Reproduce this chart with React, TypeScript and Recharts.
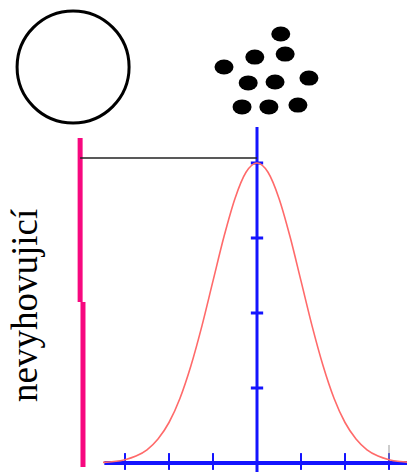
import React from 'react';
import { ComposedChart, Line, Scatter, XAxis, YAxis, ReferenceLine, ReferenceDot } from 'recharts';

// bell curve, sampled every quarter unit
const CURVE_X = [-3.5, -3.25, -3, -2.75, -2.5, -2.25, -2, -1.75, -1.5, -1.25, -1, -0.75, -0.5, -0.25, 0,
    0.25, 0.5, 0.75, 1, 1.25, 1.5, 1.75, 2, 2.25, 2.5, 2.75, 3, 3.25, 3.5];
const CURVE_Y = [0.002, 0.005, 0.011, 0.023, 0.044, 0.08, 0.135, 0.216, 0.325, 0.458, 0.607, 0.755, 0.882, 0.969, 1,
    0.969, 0.882, 0.755, 0.607, 0.458, 0.325, 0.216, 0.135, 0.08, 0.044, 0.023, 0.011, 0.005, 0.002];

const X_TICKS = [-3, -2, -1, 1, 2, 3];
const Y_TICKS = [0.25, 0.5, 0.75, 1];

// the cluster of small particles above the peak
const DOT_X = [0.54, -0.05, 0.64, -0.75, -0.2, 0.41, 1.18, -0.34, 0.27, 0.93];
const DOT_Y = [1.43, 1.353, 1.363, 1.32, 1.267, 1.27, 1.283, 1.187, 1.187, 1.193];

// one big particle on the left
const BIG_X = -4.18;
const BIG_Y = 1.32;

// limit bar on the left, drawn in two pieces
const BAR_X = [-4.02, -3.955];
const BAR_TOP = 1.083;
const BAR_MID = 0.537;
const BAR_BOTTOM = -0.013;

const LABEL = 'nevyhovujicí';

const X_MIN = -5.841;
const X_MAX = 3.409;
const Y_MIN = -0.03;
const Y_MAX = 1.5433;

const curve = CURVE_X.map((x, i) => ({ x, y: CURVE_Y[i] }));
const dots = DOT_X.map((x, i) => ({ x, y: DOT_Y[i] }));

const BLUE = '#1414ff';
const PINK = '#f7087f';
const SERIF = '"Liberation Serif", "Times New Roman", Times, "Noto Serif", "DejaVu Serif", serif';

export default function App() {
    return (
        <div style={{ position: 'absolute', left: 0, top: 0, width: 407, height: 472, background: '#fff' }}>
            <ComposedChart width={407} height={472} data={curve} margin={{ top: 0, right: 0, bottom: 0, left: 0 }}>
                <XAxis dataKey="x" type="number" domain={[X_MIN, X_MAX]} allowDataOverflow hide />
                <YAxis type="number" domain={[Y_MIN, Y_MAX]} allowDataOverflow hide />

                {/* axes */}
                <ReferenceLine segment={[{ x: -3.47, y: 0 }, { x: X_MAX, y: 0 }]} stroke={BLUE} strokeWidth={4} ifOverflow="visible" />
                <ReferenceLine segment={[{ x: 0, y: -0.03 }, { x: 0, y: 1.12 }]} stroke={BLUE} strokeWidth={3} ifOverflow="visible" />
                {X_TICKS.map((t) => (
                    <ReferenceLine key={`xt${t}`} segment={[{ x: t, y: -0.023 }, { x: t, y: 0.033 }]} stroke={BLUE} strokeWidth={2} ifOverflow="visible" />
                ))}
                {Y_TICKS.map((t) => (
                    <ReferenceLine key={`yt${t}`} segment={[{ x: -0.14, y: t }, { x: 0.14, y: t }]} stroke={BLUE} strokeWidth={3} ifOverflow="visible" />
                ))}
                <ReferenceLine segment={[{ x: 3, y: 0.01 }, { x: 3, y: 0.06 }]} stroke="#999" strokeWidth={1} ifOverflow="visible" />

                {/* pink limit bar and the connector to the peak */}
                <ReferenceLine segment={[{ x: BAR_X[0], y: BAR_TOP }, { x: BAR_X[0], y: BAR_MID }]} stroke={PINK} strokeWidth={5} ifOverflow="visible" />
                <ReferenceLine segment={[{ x: BAR_X[1], y: BAR_MID }, { x: BAR_X[1], y: BAR_BOTTOM }]} stroke={PINK} strokeWidth={5} ifOverflow="visible" />
                <ReferenceLine segment={[{ x: BAR_X[0], y: 1.017 }, { x: 0, y: 1.017 }]} stroke="#222" strokeWidth={1.5} ifOverflow="visible" />

                <Line dataKey="y" type="monotone" stroke="#ff6a6a" strokeWidth={1.6} dot={false} activeDot={false} isAnimationActive={false} />

                <ReferenceDot x={BIG_X} y={BIG_Y} r={56} fill="none" stroke="#000" strokeWidth={3} ifOverflow="visible" />
                <Scatter
                    data={dots}
                    dataKey="y"
                    isAnimationActive={false}
                    shape={(p: { cx?: number; cy?: number }) => <ellipse cx={p.cx} cy={p.cy} rx={9.5} ry={7.5} fill="#000" />}
                />
            </ComposedChart>
            {/* rotated side label */}
            <div
                style={{
                    position: 'absolute',
                    left: 38,
                    top: 402,
                    transformOrigin: '0 0',
                    transform: 'rotate(-90deg) translateY(-34px)',
                    fontFamily: SERIF,
                    fontSize: 37,
                    lineHeight: '42px',
                    whiteSpace: 'nowrap',
                    color: '#000',
                }}
            >
                {LABEL}
            </div>
        </div>
    );
}
